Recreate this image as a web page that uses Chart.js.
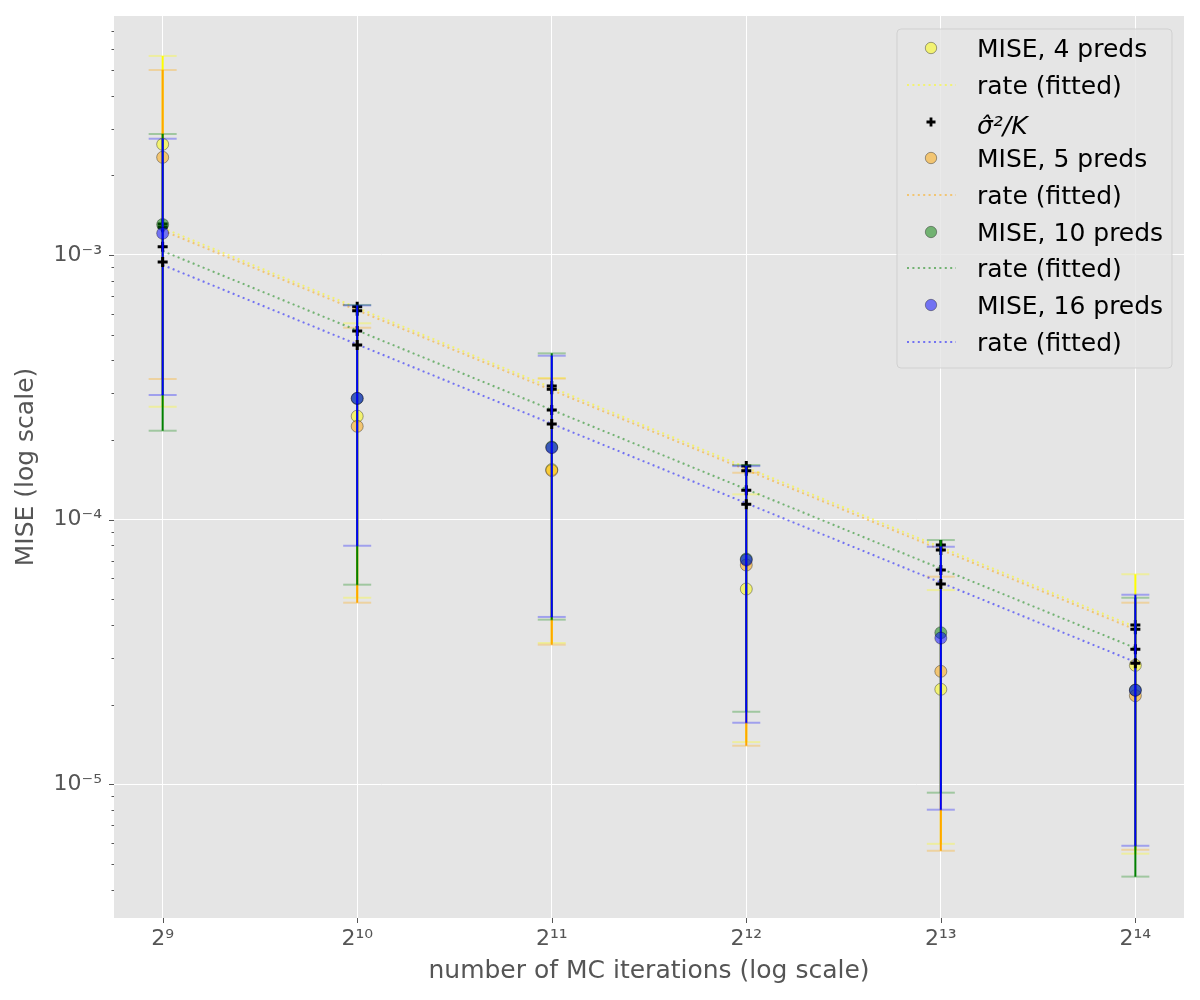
<!DOCTYPE html>
<html>
<head>
<meta charset="utf-8">
<script src="https://cdn.jsdelivr.net/npm/chart.js@4.4.0/dist/chart.umd.min.js"></script>
<style>
html,body{margin:0;padding:0;background:#ffffff;}
#wrap{width:1200px;height:1000px;}
</style>
</head>
<body>
<div id="wrap"><canvas id="c" width="1200" height="1000"></canvas></div>
<script>
// ---------- data ----------
const iterations = [512, 1024, 2048, 4096, 8192, 16384];
const xTickLabels = ['2⁹', '2¹⁰', '2¹¹', '2¹²', '2¹³', '2¹⁴'];
const yMajorTicks = [1e-5, 1e-4, 1e-3];
const yTickLabels = ['10⁻⁵', '10⁻⁴', '10⁻³'];

const seriesLabels = ['MISE, 4 preds', 'MISE, 5 preds', 'MISE, 10 preds', 'MISE, 16 preds'];

const mise4  = [2.62e-3, 2.46e-4, 1.547e-4, 5.47e-5, 2.286e-5, 2.816e-5];
const lo4    = [2.67e-4, 5.07e-5, 3.42e-5, 1.444e-5, 5.96e-6, 5.47e-6];
const hi4    = [5.65e-3, 5.52e-4, 3.43e-4, 1.246e-4, 5.42e-5, 6.22e-5];
const sigma4 = [1.310e-3, 6.378e-4, 3.199e-4, 1.594e-4, 8.02e-5, 3.998e-5];
const rate4  = [1.265e-3, 3.93e-5];

const mise5  = [2.339e-3, 2.253e-4, 1.533e-4, 6.74e-5, 2.673e-5, 2.162e-5];
const lo5    = [3.40e-4, 4.856e-5, 3.37e-5, 1.399e-5, 5.61e-6, 5.66e-6];
const hi5    = [5.0e-3, 5.31e-4, 3.41e-4, 1.504e-4, 6.09e-5, 4.856e-5];
const sigma5 = [1.273e-3, 6.16e-4, 3.108e-4, 1.531e-4, 7.68e-5, 3.852e-5];
const rate5  = [1.238e-3, 3.845e-5];

const mise10  = [1.304e-3, 2.87e-4, 1.882e-4, 7.10e-5, 3.74e-5, 2.272e-5];
const lo10    = [2.168e-4, 5.68e-5, 4.19e-5, 1.880e-5, 9.30e-6, 4.48e-6];
const hi10    = [2.865e-3, 6.475e-4, 4.25e-4, 1.608e-4, 8.375e-5, 5.07e-5];
const sigma10 = [1.075e-3, 5.16e-4, 2.597e-4, 1.291e-4, 6.45e-5, 3.236e-5];
const rate10  = [1.035e-3, 3.273e-5];

const mise16  = [1.208e-3, 2.873e-4, 1.870e-4, 7.04e-5, 3.57e-5, 2.266e-5];
const lo16    = [2.958e-4, 7.97e-5, 4.29e-5, 1.709e-5, 8.02e-6, 5.86e-6];
const hi16    = [2.75e-3, 6.45e-4, 4.163e-4, 1.594e-4, 7.90e-5, 5.205e-5];
const sigma16 = [9.41e-4, 4.57e-4, 2.298e-4, 1.143e-4, 5.71e-5, 2.866e-5];
const rate16  = [9.17e-4, 2.898e-5];

const xMin = 430.5, xMax = 19484;      // 2^8.75 .. 2^14.25
const yMin = 3.126e-6, yMax = 7.998e-3;

// ---------- styles ----------
const seriesRGB = ['255,255,0', '255,165,0', '0,128,0', '0,0,255'];
const FONT = '"DejaVu Sans", "Noto Sans", sans-serif';

const series = [
  {label: seriesLabels[0], mise: mise4,  lo: lo4,  hi: hi4,  sigma: sigma4,  rate: rate4},
  {label: seriesLabels[1], mise: mise5,  lo: lo5,  hi: hi5,  sigma: sigma5,  rate: rate5},
  {label: seriesLabels[2], mise: mise10, lo: lo10, hi: hi10, sigma: sigma10, rate: rate10},
  {label: seriesLabels[3], mise: mise16, lo: lo16, hi: hi16, sigma: sigma16, rate: rate16}
];

const datasets = [];
series.forEach((s, i) => {
  const rgb = seriesRGB[i];
  datasets.push({
    label: s.label,
    legendType: 'circle',
    data: iterations.map((k, j) => ({x: k, y: s.mise[j]})),
    showLine: false,
    pointStyle: 'circle',
    pointRadius: 6,
    pointBackgroundColor: 'rgba(' + rgb + ',0.5)',
    pointBorderColor: 'rgba(0,0,0,0.35)',
    pointBorderWidth: 1,
    errLo: s.lo, errHi: s.hi,
    errColor: 'rgb(' + rgb + ')',
    capColor: 'rgba(' + rgb + ',0.3)'
  });
  datasets.push({
    label: 'rate (fitted)',
    legendType: 'line',
    data: [{x: iterations[0], y: s.rate[0]}, {x: iterations[iterations.length - 1], y: s.rate[1]}],
    showLine: true,
    pointRadius: 0,
    borderColor: 'rgba(' + rgb + ',0.5)',
    borderWidth: 2,
    borderDash: [2, 3.4],
    fill: false
  });
  datasets.push({
    label: i === 0 ? 'σ̂²/K' : '',
    legendType: i === 0 ? 'cross' : null,
    data: iterations.map((k, j) => ({x: k, y: s.sigma[j]})),
    showLine: false,
    pointStyle: 'cross',
    pointRadius: 5,
    pointBorderColor: '#000000',
    pointBorderWidth: 3
  });
});
datasets.forEach((d, n) => { d.order = datasets.length - n; });

function isMajor(v) {
  const l = Math.log10(v);
  return Math.abs(l - Math.round(l)) < 1e-9;
}
function yTickValues() {
  const out = [];
  for (let e = -6; e <= -3; e++) {
    for (let m = 1; m <= 9; m++) {
      const v = m * Math.pow(10, e);
      if (v >= yMin && v <= yMax) out.push(v);
    }
  }
  return out;
}

const bgPlugin = {
  id: 'bg',
  beforeDraw(chart) {
    const {ctx, chartArea: a} = chart;
    ctx.save();
    ctx.fillStyle = '#ffffff';
    ctx.fillRect(0, 0, chart.width, chart.height);
    ctx.fillStyle = '#E5E5E5';
    ctx.fillRect(a.left, a.top, a.right - a.left, a.bottom - a.top);
    ctx.restore();
  }
};

const errorBarPlugin = {
  id: 'errbars',
  beforeDatasetDraw(chart, args) {
    const ds = chart.data.datasets[args.index];
    if (!ds.errLo) return;
    const ctx = chart.ctx, xs = chart.scales.x, ys = chart.scales.y;
    ctx.save();
    ctx.lineCap = 'butt';
    ctx.lineWidth = 2;
    ctx.strokeStyle = ds.errColor;
    ds.data.forEach((p, j) => {
      const px = xs.getPixelForValue(p.x);
      ctx.beginPath();
      ctx.moveTo(px, ys.getPixelForValue(ds.errHi[j]));
      ctx.lineTo(px, ys.getPixelForValue(ds.errLo[j]));
      ctx.stroke();
    });
    ctx.strokeStyle = ds.capColor;
    ds.data.forEach((p, j) => {
      const px = xs.getPixelForValue(p.x);
      [ds.errHi[j], ds.errLo[j]].forEach(v => {
        const py = ys.getPixelForValue(v);
        ctx.beginPath();
        ctx.moveTo(px - 14, py);
        ctx.lineTo(px + 14, py);
        ctx.stroke();
      });
    });
    ctx.restore();
  }
};

const tickMarkPlugin = {
  id: 'tickmarks',
  afterDraw(chart) {
    const {ctx, chartArea: a} = chart;
    const xs = chart.scales.x, ys = chart.scales.y;
    ctx.save();
    ctx.strokeStyle = '#555555';
    ctx.lineWidth = 1;
    ys.ticks.forEach(t => {
      const py = Math.round(ys.getPixelForValue(t.value)) + 0.5;
      const len = isMajor(t.value) ? 5 : 2.5;
      ctx.beginPath();
      ctx.moveTo(a.left - len, py);
      ctx.lineTo(a.left, py);
      ctx.stroke();
    });
    xs.ticks.forEach(t => {
      const px = Math.round(xs.getPixelForValue(t.value)) + 0.5;
      ctx.beginPath();
      ctx.moveTo(px, a.bottom);
      ctx.lineTo(px, a.bottom + 5);
      ctx.stroke();
    });
    ctx.restore();
  }
};

const legendPlugin = {
  id: 'customLegend',
  afterDraw(chart) {
    const {ctx, chartArea: a} = chart;
    const items = chart.data.datasets.filter(d => d.legendType);
    const boxRight = a.right - 12, boxTop = a.top + 13;
    const boxW = 275, rowH = 36.67;
    const boxH = items.length * rowH + 9;
    const boxLeft = boxRight - boxW;
    ctx.save();
    const r = 4;
    ctx.beginPath();
    ctx.moveTo(boxLeft + r, boxTop);
    ctx.lineTo(boxRight - r, boxTop);
    ctx.quadraticCurveTo(boxRight, boxTop, boxRight, boxTop + r);
    ctx.lineTo(boxRight, boxTop + boxH - r);
    ctx.quadraticCurveTo(boxRight, boxTop + boxH, boxRight - r, boxTop + boxH);
    ctx.lineTo(boxLeft + r, boxTop + boxH);
    ctx.quadraticCurveTo(boxLeft, boxTop + boxH, boxLeft, boxTop + boxH - r);
    ctx.lineTo(boxLeft, boxTop + r);
    ctx.quadraticCurveTo(boxLeft, boxTop, boxLeft + r, boxTop);
    ctx.closePath();
    ctx.fillStyle = 'rgba(229,229,229,0.8)';
    ctx.fill();
    ctx.strokeStyle = 'rgba(204,204,204,0.8)';
    ctx.lineWidth = 1;
    ctx.stroke();

    const markerX = boxLeft + 34, lineX0 = boxLeft + 10, lineX1 = boxLeft + 59, textX = boxLeft + 80;
    items.forEach((d, i) => {
      const cy = Math.round(boxTop + 19.3 + i * rowH);
      if (d.legendType === 'circle') {
        ctx.beginPath();
        ctx.arc(markerX, cy, 5.7, 0, Math.PI * 2);
        ctx.fillStyle = d.pointBackgroundColor;
        ctx.fill();
        ctx.strokeStyle = d.pointBorderColor;
        ctx.lineWidth = 1;
        ctx.stroke();
      } else if (d.legendType === 'line') {
        ctx.save();
        ctx.setLineDash(d.borderDash);
        ctx.strokeStyle = d.borderColor;
        ctx.lineWidth = d.borderWidth;
        ctx.beginPath();
        ctx.moveTo(lineX0, cy);
        ctx.lineTo(lineX1, cy);
        ctx.stroke();
        ctx.restore();
      } else if (d.legendType === 'cross') {
        ctx.strokeStyle = '#000';
        ctx.lineWidth = 2.8;
        ctx.beginPath();
        ctx.moveTo(markerX - 4.5, cy); ctx.lineTo(markerX + 4.5, cy);
        ctx.moveTo(markerX, cy - 4.5); ctx.lineTo(markerX, cy + 4.5);
        ctx.stroke();
      }
      ctx.fillStyle = '#000000';
      ctx.textBaseline = 'alphabetic';
      ctx.textAlign = 'left';
      if (d.legendType === 'cross') {
        ctx.font = 'italic 25px ' + FONT;
        ctx.fillText(d.label, textX, cy + 11.5);
      } else {
        ctx.font = '25px ' + FONT;
        ctx.fillText(d.label, textX, cy + 8.6);
      }
    });
    ctx.restore();
  }
};

new Chart(document.getElementById('c'), {
  type: 'scatter',
  data: {datasets},
  plugins: [bgPlugin, errorBarPlugin, tickMarkPlugin, legendPlugin],
  options: {
    responsive: false,
    animation: false,
    devicePixelRatio: 1,
    events: [],
    layout: {padding: {top: 16, right: 16, left: 0, bottom: 0}},
    plugins: {legend: {display: false}, tooltip: {enabled: false}},
    scales: {
      x: {
        type: 'logarithmic',
        min: xMin, max: xMax,
        afterBuildTicks: s => { s.ticks = iterations.map(v => ({value: v})); },
        afterFit: s => { s.height = 82; s.paddingLeft = 0; s.paddingRight = 0; },
        border: {display: false},
        grid: {color: '#ffffff', lineWidth: 1, drawTicks: true, tickLength: 5, tickColor: 'rgba(0,0,0,0)'},
        ticks: {
          autoSkip: false, maxRotation: 0, padding: 3,
          color: '#555555', font: {family: FONT, size: 22},
          callback: v => { const j = iterations.indexOf(v); return j >= 0 ? xTickLabels[j] : ''; }
        },
        title: {display: true, text: 'number of MC iterations (log scale)', color: '#555555',
                font: {family: FONT, size: 25}, padding: {top: 0, bottom: 14}}
      },
      y: {
        type: 'logarithmic',
        min: yMin, max: yMax,
        afterBuildTicks: s => { s.ticks = yTickValues().map(v => ({value: v})); },
        afterFit: s => { s.width = 114; s.paddingTop = 0; s.paddingBottom = 0; },
        border: {display: false},
        grid: {
          color: c => (c.tick && isMajor(c.tick.value)) ? '#ffffff' : 'rgba(0,0,0,0)',
          lineWidth: 1, drawTicks: true, tickLength: 5, tickColor: 'rgba(0,0,0,0)'
        },
        ticks: {
          autoSkip: false, padding: 7,
          color: '#555555', font: {family: FONT, size: 22},
          callback: v => {
            const j = yMajorTicks.findIndex(m => Math.abs(m - v) / m < 1e-9);
            return j >= 0 ? yTickLabels[j] : '';
          }
        },
        title: {display: true, text: 'MISE (log scale)', color: '#555555',
                font: {family: FONT, size: 25}, padding: {top: 11, bottom: 0}}
      }
    }
  }
});
</script>
</body>
</html>
